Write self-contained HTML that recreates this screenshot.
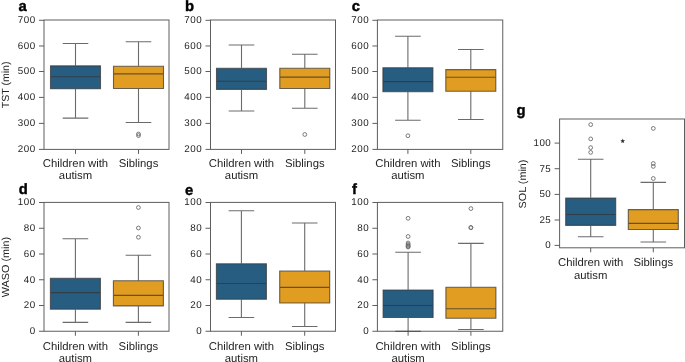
<!DOCTYPE html>
<html><head><meta charset="utf-8"><style>
html,body{margin:0;padding:0;background:#fff;}
body{width:685px;height:362px;overflow:hidden;}
svg{display:block;will-change:transform;text-rendering:geometricPrecision;}
text{font-family:"Liberation Sans",sans-serif;fill:#242424;}
.tk{font-size:9.8px;letter-spacing:0.5px;text-anchor:end;}
.xl{font-size:11.3px;text-anchor:middle;}
.yl{font-size:10.3px;text-anchor:middle;}
.pl{font-size:14.8px;font-weight:bold;fill:#000;stroke:#000;stroke-width:0.4px;}
.st{font-size:9px;text-anchor:middle;}
</style></head><body>
<svg width="685" height="362" viewBox="0 0 685 362">
<rect x="44" y="20" width="125" height="129.4" fill="none" stroke="#5e5e5e" stroke-width="1.0"/>
<line x1="39" y1="20.3" x2="44" y2="20.3" stroke="#5e5e5e" stroke-width="1.0"/>
<text x="35.7" y="23.25" class="tk">700</text>
<line x1="39" y1="45.97" x2="44" y2="45.97" stroke="#5e5e5e" stroke-width="1.0"/>
<text x="35.7" y="48.92" class="tk">600</text>
<line x1="39" y1="71.5" x2="44" y2="71.5" stroke="#5e5e5e" stroke-width="1.0"/>
<text x="35.7" y="74.45" class="tk">500</text>
<line x1="39" y1="97.4" x2="44" y2="97.4" stroke="#5e5e5e" stroke-width="1.0"/>
<text x="35.7" y="100.35" class="tk">400</text>
<line x1="39" y1="123.4" x2="44" y2="123.4" stroke="#5e5e5e" stroke-width="1.0"/>
<text x="35.7" y="126.35" class="tk">300</text>
<line x1="39" y1="149.4" x2="44" y2="149.4" stroke="#5e5e5e" stroke-width="1.0"/>
<text x="35.7" y="152.35" class="tk">200</text>
<line x1="75.5" y1="149.4" x2="75.5" y2="153.9" stroke="#5e5e5e" stroke-width="1.0"/>
<line x1="138.5" y1="149.4" x2="138.5" y2="153.9" stroke="#5e5e5e" stroke-width="1.0"/>
<text x="75.5" y="166.8" class="xl">Children with</text>
<text x="75.5" y="179.2" class="xl">autism</text>
<text x="138.5" y="166.8" class="xl">Siblings</text>
<text transform="translate(8.8,84.9) rotate(-90)" class="yl" textLength="46.8" lengthAdjust="spacingAndGlyphs">TST (min)</text>
<rect x="50.5" y="65.9" width="50" height="22.9" fill="#285d82"/>
<rect x="113.5" y="66.3" width="50" height="22.2" fill="#e09d22"/>
<g opacity="0.72"><path d="M75.5 43.5V65.9M75.5 88.8V118.1M62.7 43.5H88.3M62.7 118.1H88.3M50.5 65.9H100.5V88.8H50.5ZM50.5 76.8H100.5" fill="none" stroke="#333333" stroke-width="1.1"/><path d="M138.5 41.7V66.3M138.5 88.5V122.5M125.7 41.7H151.3M125.7 122.5H151.3M113.5 66.3H163.5V88.5H113.5ZM113.5 73.9H163.5" fill="none" stroke="#333333" stroke-width="1.1"/><circle cx="138.5" cy="134" r="1.9" fill="none" stroke="#333333" stroke-width="0.9"/><circle cx="138.5" cy="135.6" r="1.9" fill="none" stroke="#333333" stroke-width="0.9"/></g>
<rect x="210.5" y="20" width="125" height="129.4" fill="none" stroke="#5e5e5e" stroke-width="1.0"/>
<line x1="205.5" y1="20.3" x2="210.5" y2="20.3" stroke="#5e5e5e" stroke-width="1.0"/>
<text x="202.2" y="23.25" class="tk">700</text>
<line x1="205.5" y1="45.97" x2="210.5" y2="45.97" stroke="#5e5e5e" stroke-width="1.0"/>
<text x="202.2" y="48.92" class="tk">600</text>
<line x1="205.5" y1="71.5" x2="210.5" y2="71.5" stroke="#5e5e5e" stroke-width="1.0"/>
<text x="202.2" y="74.45" class="tk">500</text>
<line x1="205.5" y1="97.4" x2="210.5" y2="97.4" stroke="#5e5e5e" stroke-width="1.0"/>
<text x="202.2" y="100.35" class="tk">400</text>
<line x1="205.5" y1="123.4" x2="210.5" y2="123.4" stroke="#5e5e5e" stroke-width="1.0"/>
<text x="202.2" y="126.35" class="tk">300</text>
<line x1="205.5" y1="149.4" x2="210.5" y2="149.4" stroke="#5e5e5e" stroke-width="1.0"/>
<text x="202.2" y="152.35" class="tk">200</text>
<line x1="241.5" y1="149.4" x2="241.5" y2="153.9" stroke="#5e5e5e" stroke-width="1.0"/>
<line x1="304.8" y1="149.4" x2="304.8" y2="153.9" stroke="#5e5e5e" stroke-width="1.0"/>
<text x="241.5" y="166.8" class="xl">Children with</text>
<text x="241.5" y="179.2" class="xl">autism</text>
<text x="304.8" y="166.8" class="xl">Siblings</text>
<rect x="216.5" y="68.3" width="50" height="21.1" fill="#285d82"/>
<rect x="279.8" y="68.3" width="50" height="20.2" fill="#e09d22"/>
<g opacity="0.72"><path d="M241.5 45V68.3M241.5 89.4V111M228.7 45H254.3M228.7 111H254.3M216.5 68.3H266.5V89.4H216.5ZM216.5 81.3H266.5" fill="none" stroke="#333333" stroke-width="1.1"/><path d="M304.8 54.25V68.3M304.8 88.5V108.25M292 54.25H317.6M292 108.25H317.6M279.8 68.3H329.8V88.5H279.8ZM279.8 77.1H329.8" fill="none" stroke="#333333" stroke-width="1.1"/><circle cx="304.8" cy="134.5" r="1.9" fill="none" stroke="#333333" stroke-width="0.9"/></g>
<rect x="377.4" y="20" width="125.35" height="129.4" fill="none" stroke="#5e5e5e" stroke-width="1.0"/>
<line x1="372.4" y1="20.3" x2="377.4" y2="20.3" stroke="#5e5e5e" stroke-width="1.0"/>
<text x="369.1" y="23.25" class="tk">700</text>
<line x1="372.4" y1="45.97" x2="377.4" y2="45.97" stroke="#5e5e5e" stroke-width="1.0"/>
<text x="369.1" y="48.92" class="tk">600</text>
<line x1="372.4" y1="71.5" x2="377.4" y2="71.5" stroke="#5e5e5e" stroke-width="1.0"/>
<text x="369.1" y="74.45" class="tk">500</text>
<line x1="372.4" y1="97.4" x2="377.4" y2="97.4" stroke="#5e5e5e" stroke-width="1.0"/>
<text x="369.1" y="100.35" class="tk">400</text>
<line x1="372.4" y1="123.4" x2="377.4" y2="123.4" stroke="#5e5e5e" stroke-width="1.0"/>
<text x="369.1" y="126.35" class="tk">300</text>
<line x1="372.4" y1="149.4" x2="377.4" y2="149.4" stroke="#5e5e5e" stroke-width="1.0"/>
<text x="369.1" y="152.35" class="tk">200</text>
<line x1="407.9" y1="149.4" x2="407.9" y2="153.9" stroke="#5e5e5e" stroke-width="1.0"/>
<line x1="470.8" y1="149.4" x2="470.8" y2="153.9" stroke="#5e5e5e" stroke-width="1.0"/>
<text x="407.9" y="166.8" class="xl">Children with</text>
<text x="407.9" y="179.2" class="xl">autism</text>
<text x="470.8" y="166.8" class="xl">Siblings</text>
<rect x="382.9" y="67.7" width="50" height="24" fill="#285d82"/>
<rect x="445.8" y="69.6" width="50" height="21.7" fill="#e09d22"/>
<g opacity="0.72"><path d="M407.9 36.25V67.7M407.9 91.7V120.25M395.1 36.25H420.7M395.1 120.25H420.7M382.9 67.7H432.9V91.7H382.9ZM382.9 81.6H432.9" fill="none" stroke="#333333" stroke-width="1.1"/><circle cx="407.9" cy="135.75" r="1.9" fill="none" stroke="#333333" stroke-width="0.9"/><path d="M470.8 49.5V69.6M470.8 91.3V119.5M458 49.5H483.6M458 119.5H483.6M445.8 69.6H495.8V91.3H445.8ZM445.8 77.2H495.8" fill="none" stroke="#333333" stroke-width="1.1"/></g>
<rect x="44" y="202.4" width="125" height="128.85" fill="none" stroke="#5e5e5e" stroke-width="1.0"/>
<line x1="39" y1="202.5" x2="44" y2="202.5" stroke="#5e5e5e" stroke-width="1.0"/>
<text x="35.7" y="205.45" class="tk">100</text>
<line x1="39" y1="228.25" x2="44" y2="228.25" stroke="#5e5e5e" stroke-width="1.0"/>
<text x="35.7" y="231.2" class="tk">80</text>
<line x1="39" y1="254" x2="44" y2="254" stroke="#5e5e5e" stroke-width="1.0"/>
<text x="35.7" y="256.95" class="tk">60</text>
<line x1="39" y1="279.75" x2="44" y2="279.75" stroke="#5e5e5e" stroke-width="1.0"/>
<text x="35.7" y="282.7" class="tk">40</text>
<line x1="39" y1="305.5" x2="44" y2="305.5" stroke="#5e5e5e" stroke-width="1.0"/>
<text x="35.7" y="308.45" class="tk">20</text>
<line x1="39" y1="331.25" x2="44" y2="331.25" stroke="#5e5e5e" stroke-width="1.0"/>
<text x="35.7" y="334.2" class="tk">0</text>
<line x1="75.4" y1="331.25" x2="75.4" y2="335.75" stroke="#5e5e5e" stroke-width="1.0"/>
<line x1="138.4" y1="331.25" x2="138.4" y2="335.75" stroke="#5e5e5e" stroke-width="1.0"/>
<text x="75.4" y="349.6" class="xl">Children with</text>
<text x="75.4" y="362" class="xl">autism</text>
<text x="138.4" y="349.6" class="xl">Siblings</text>
<text transform="translate(8.8,267.1) rotate(-90)" class="yl" textLength="60.2" lengthAdjust="spacingAndGlyphs">WASO (min)</text>
<rect x="50.4" y="278.3" width="50" height="30.9" fill="#285d82"/>
<rect x="113.4" y="280.7" width="50" height="25.2" fill="#e09d22"/>
<g opacity="0.72"><path d="M75.4 238.75V278.3M75.4 309.2V322.4M62.6 238.75H88.2M62.6 322.4H88.2M50.4 278.3H100.4V309.2H50.4ZM50.4 292.6H100.4" fill="none" stroke="#333333" stroke-width="1.1"/><path d="M138.4 255.25V280.7M138.4 305.9V322.4M125.6 255.25H151.2M125.6 322.4H151.2M113.4 280.7H163.4V305.9H113.4ZM113.4 295.4H163.4" fill="none" stroke="#333333" stroke-width="1.1"/><circle cx="138.4" cy="207.5" r="1.9" fill="none" stroke="#333333" stroke-width="0.9"/><circle cx="138.4" cy="228" r="1.9" fill="none" stroke="#333333" stroke-width="0.9"/><circle cx="138.4" cy="237.25" r="1.9" fill="none" stroke="#333333" stroke-width="0.9"/></g>
<rect x="210.5" y="202.4" width="125" height="128.85" fill="none" stroke="#5e5e5e" stroke-width="1.0"/>
<line x1="205.5" y1="202.5" x2="210.5" y2="202.5" stroke="#5e5e5e" stroke-width="1.0"/>
<text x="202.2" y="205.45" class="tk">100</text>
<line x1="205.5" y1="228.25" x2="210.5" y2="228.25" stroke="#5e5e5e" stroke-width="1.0"/>
<text x="202.2" y="231.2" class="tk">80</text>
<line x1="205.5" y1="254" x2="210.5" y2="254" stroke="#5e5e5e" stroke-width="1.0"/>
<text x="202.2" y="256.95" class="tk">60</text>
<line x1="205.5" y1="279.75" x2="210.5" y2="279.75" stroke="#5e5e5e" stroke-width="1.0"/>
<text x="202.2" y="282.7" class="tk">40</text>
<line x1="205.5" y1="305.5" x2="210.5" y2="305.5" stroke="#5e5e5e" stroke-width="1.0"/>
<text x="202.2" y="308.45" class="tk">20</text>
<line x1="205.5" y1="331.25" x2="210.5" y2="331.25" stroke="#5e5e5e" stroke-width="1.0"/>
<text x="202.2" y="334.2" class="tk">0</text>
<line x1="241.4" y1="331.25" x2="241.4" y2="335.75" stroke="#5e5e5e" stroke-width="1.0"/>
<line x1="304.7" y1="331.25" x2="304.7" y2="335.75" stroke="#5e5e5e" stroke-width="1.0"/>
<text x="241.4" y="349.6" class="xl">Children with</text>
<text x="241.4" y="362" class="xl">autism</text>
<text x="304.7" y="349.6" class="xl">Siblings</text>
<rect x="216.4" y="263.8" width="50" height="35.5" fill="#285d82"/>
<rect x="279.7" y="271" width="50" height="32" fill="#e09d22"/>
<g opacity="0.72"><path d="M241.4 210.75V263.8M241.4 299.3V317.5M228.6 210.75H254.2M228.6 317.5H254.2M216.4 263.8H266.4V299.3H216.4ZM216.4 283.5H266.4" fill="none" stroke="#333333" stroke-width="1.1"/><path d="M304.7 223V271M304.7 303V326.5M291.9 223H317.5M291.9 326.5H317.5M279.7 271H329.7V303H279.7ZM279.7 287.4H329.7" fill="none" stroke="#333333" stroke-width="1.1"/></g>
<rect x="377.4" y="202.4" width="125.35" height="128.85" fill="none" stroke="#5e5e5e" stroke-width="1.0"/>
<line x1="372.4" y1="202.5" x2="377.4" y2="202.5" stroke="#5e5e5e" stroke-width="1.0"/>
<text x="369.1" y="205.45" class="tk">100</text>
<line x1="372.4" y1="228.25" x2="377.4" y2="228.25" stroke="#5e5e5e" stroke-width="1.0"/>
<text x="369.1" y="231.2" class="tk">80</text>
<line x1="372.4" y1="254" x2="377.4" y2="254" stroke="#5e5e5e" stroke-width="1.0"/>
<text x="369.1" y="256.95" class="tk">60</text>
<line x1="372.4" y1="279.75" x2="377.4" y2="279.75" stroke="#5e5e5e" stroke-width="1.0"/>
<text x="369.1" y="282.7" class="tk">40</text>
<line x1="372.4" y1="305.5" x2="377.4" y2="305.5" stroke="#5e5e5e" stroke-width="1.0"/>
<text x="369.1" y="308.45" class="tk">20</text>
<line x1="372.4" y1="331.25" x2="377.4" y2="331.25" stroke="#5e5e5e" stroke-width="1.0"/>
<text x="369.1" y="334.2" class="tk">0</text>
<line x1="408.1" y1="331.25" x2="408.1" y2="335.75" stroke="#5e5e5e" stroke-width="1.0"/>
<line x1="470.9" y1="331.25" x2="470.9" y2="335.75" stroke="#5e5e5e" stroke-width="1.0"/>
<text x="408.1" y="349.6" class="xl">Children with</text>
<text x="408.1" y="362" class="xl">autism</text>
<text x="470.9" y="349.6" class="xl">Siblings</text>
<rect x="383.1" y="290" width="50" height="27.5" fill="#285d82"/>
<rect x="445.9" y="287.25" width="50" height="31" fill="#e09d22"/>
<g opacity="0.72"><path d="M408.1 252.2V290M408.1 317.5V331.25M395.3 252.2H420.9M395.3 331.25H420.9M383.1 290H433.1V317.5H383.1ZM383.1 305.5H433.1" fill="none" stroke="#333333" stroke-width="1.1"/><circle cx="408.1" cy="218.3" r="1.9" fill="none" stroke="#333333" stroke-width="0.9"/><circle cx="408.1" cy="236.5" r="1.9" fill="none" stroke="#333333" stroke-width="0.9"/><circle cx="408.1" cy="243" r="1.9" fill="none" stroke="#333333" stroke-width="0.9"/><circle cx="408.1" cy="244.5" r="1.9" fill="none" stroke="#333333" stroke-width="0.9"/><circle cx="408.1" cy="245.5" r="1.9" fill="none" stroke="#333333" stroke-width="0.9"/><circle cx="408.1" cy="246.5" r="1.9" fill="none" stroke="#333333" stroke-width="0.9"/><circle cx="408.1" cy="247" r="1.9" fill="none" stroke="#333333" stroke-width="0.9"/><path d="M470.9 243.4V287.25M470.9 318.25V329.5M458.1 243.4H483.7M458.1 329.5H483.7M445.9 287.25H495.9V318.25H445.9ZM445.9 308.75H495.9" fill="none" stroke="#333333" stroke-width="1.1"/><circle cx="470.9" cy="208.6" r="1.9" fill="none" stroke="#333333" stroke-width="0.9"/><circle cx="470.9" cy="227.4" r="1.9" fill="none" stroke="#333333" stroke-width="0.9"/><circle cx="470.9" cy="227.8" r="1.9" fill="none" stroke="#333333" stroke-width="0.9"/></g>
<rect x="559.6" y="119" width="124.9" height="128.8" fill="none" stroke="#5e5e5e" stroke-width="1.0"/>
<line x1="554.6" y1="143.1" x2="559.6" y2="143.1" stroke="#5e5e5e" stroke-width="1.0"/>
<text x="551.3" y="146.05" class="tk">100</text>
<line x1="554.6" y1="168.7" x2="559.6" y2="168.7" stroke="#5e5e5e" stroke-width="1.0"/>
<text x="551.3" y="171.65" class="tk">75</text>
<line x1="554.6" y1="194.4" x2="559.6" y2="194.4" stroke="#5e5e5e" stroke-width="1.0"/>
<text x="551.3" y="197.35" class="tk">50</text>
<line x1="554.6" y1="220" x2="559.6" y2="220" stroke="#5e5e5e" stroke-width="1.0"/>
<text x="551.3" y="222.95" class="tk">25</text>
<line x1="554.6" y1="245.4" x2="559.6" y2="245.4" stroke="#5e5e5e" stroke-width="1.0"/>
<text x="551.3" y="248.35" class="tk">0</text>
<line x1="590.7" y1="247.8" x2="590.7" y2="252.3" stroke="#5e5e5e" stroke-width="1.0"/>
<line x1="653.3" y1="247.8" x2="653.3" y2="252.3" stroke="#5e5e5e" stroke-width="1.0"/>
<text x="590.7" y="266.3" class="xl">Children with</text>
<text x="590.7" y="278.7" class="xl">autism</text>
<text x="653.3" y="266.3" class="xl">Siblings</text>
<text transform="translate(525.5,184) rotate(-90)" class="yl" textLength="48.8" lengthAdjust="spacingAndGlyphs">SOL (min)</text>
<rect x="565.7" y="198.1" width="50" height="27.3" fill="#285d82"/>
<rect x="628.3" y="209.6" width="50" height="19.9" fill="#e09d22"/>
<g opacity="0.72"><path d="M590.7 159.2V198.1M590.7 225.4V236.7M577.9 159.2H603.5M577.9 236.7H603.5M565.7 198.1H615.7V225.4H565.7ZM565.7 214.5H615.7" fill="none" stroke="#333333" stroke-width="1.1"/><circle cx="590.7" cy="124.6" r="1.9" fill="none" stroke="#333333" stroke-width="0.9"/><circle cx="590.7" cy="138.9" r="1.9" fill="none" stroke="#333333" stroke-width="0.9"/><circle cx="590.7" cy="147.6" r="1.9" fill="none" stroke="#333333" stroke-width="0.9"/><circle cx="590.7" cy="152.4" r="1.9" fill="none" stroke="#333333" stroke-width="0.9"/><path d="M653.3 182.4V209.6M653.3 229.5V242M640.5 182.4H666.1M640.5 242H666.1M628.3 209.6H678.3V229.5H628.3ZM628.3 223.4H678.3" fill="none" stroke="#333333" stroke-width="1.1"/><circle cx="653.3" cy="128.4" r="1.9" fill="none" stroke="#333333" stroke-width="0.9"/><circle cx="653.3" cy="163.5" r="1.9" fill="none" stroke="#333333" stroke-width="0.9"/><circle cx="653.3" cy="166.4" r="1.9" fill="none" stroke="#333333" stroke-width="0.9"/><circle cx="653.3" cy="178.5" r="1.9" fill="none" stroke="#333333" stroke-width="0.9"/></g>
<text x="18.4" y="10.8" class="pl">a</text>
<text x="185" y="10.8" class="pl">b</text>
<text x="351.7" y="11.2" class="pl">c</text>
<text x="18.7" y="194.2" class="pl">d</text>
<text x="185" y="195.4" class="pl">e</text>
<text x="352" y="194.2" class="pl">f</text>
<text x="516.4" y="115" class="pl">g</text>
<polygon points="622.70,138.60 623.32,140.25 625.08,140.33 623.70,141.42 624.17,143.12 622.70,142.15 621.23,143.12 621.70,141.42 620.32,140.33 622.08,140.25" fill="#2a2a2a"/>
</svg>
</body></html>
